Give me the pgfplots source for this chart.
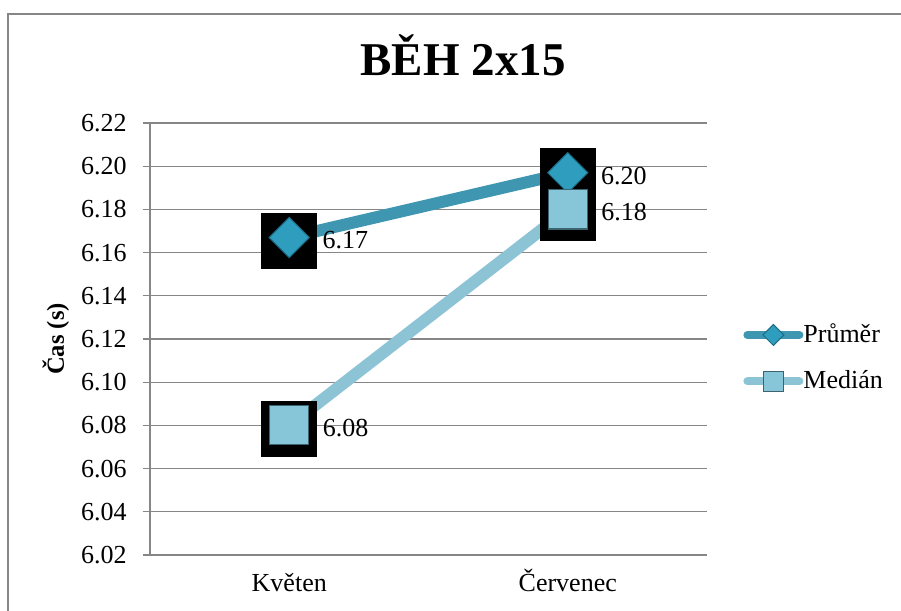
\documentclass[border=0pt]{standalone}
\usepackage{pgfplots}
\pgfplotsset{compat=1.18}
\usepackage{fontspec}
\setmainfont{Liberation Serif}

\definecolor{cPrumer}{RGB}{62,150,176}
\definecolor{cPrumerMk}{RGB}{47,157,190}
\definecolor{cPrumerEdge}{RGB}{28,108,132}
\definecolor{cMedian}{RGB}{141,196,213}
\definecolor{cMedianMk}{RGB}{135,198,216}
\definecolor{cMedianEdge}{RGB}{60,100,112}
\definecolor{cGrid}{RGB}{134,134,134}

\begin{document}
\begin{tikzpicture}
\useasboundingbox (0,0) rectangle (450.5pt,305.5pt);
% chart frame
\draw[cGrid, line width=1pt] (4pt,0pt) -- (4pt,298.5pt) -- (450.5pt,298.5pt);
\coordinate (plotorigin) at (75pt,28pt);

\begin{axis}[
  at={(plotorigin)}, anchor=south west,
  scale only axis, width=278.5pt, height=216pt,
  xmin=-0.5, xmax=1.5, ymin=6.02, ymax=6.22,
  xtick={0,1}, xticklabels={Květen, Červenec},
  ytick={6.02,6.04,...,6.221},
  axis lines*=left,
  axis line style={cGrid, line width=0.6pt},
  ymajorgrids, grid style={cGrid, line width=0.6pt},
  major x tick style={draw=none},
  major y tick style={cGrid, line width=0.6pt},
  tick align=outside, major tick length=3.5pt,
  /pgf/number format/assume math mode=true,
  yticklabel={\pgfmathprintnumber[fixed, fixed zerofill, precision=2]{\tick}},
  tick label style={font=\fontsize{13}{15}\selectfont},
  yticklabel style={anchor=east, inner sep=0pt, xshift=-8pt},
  xticklabel style={anchor=base, inner sep=0pt, yshift=-15pt},
  ylabel={\textbf{Čas (s)}},
  ylabel style={at={(axis description cs:-0.169,0.5)}, anchor=center, font=\fontsize{12.3}{14}\selectfont},
  title={\textbf{BĚH 2x15}},
  title style={at={(axis description cs:0.562,1.083)}, anchor=base, inner sep=0pt, font=\fontsize{23.5}{26}\selectfont},
  legend style={at={(axis description cs:1,0.5)}, anchor=west, xshift=15pt, yshift=-9.5pt,
    draw=none, fill=none, font=\fontsize{13}{15}\selectfont, row sep=12.5pt,
    nodes={inner sep=0pt, anchor=west}},
  legend cell align=left,
  clip=false,
]
% connecting lines
\addplot[cPrumer, line width=6pt, forget plot] coordinates {(0,6.167) (1,6.197)};
\addplot[cMedian, line width=6pt, forget plot] coordinates {(0,6.08) (1,6.18)};
% black backing boxes behind the markers
\addplot[only marks, mark=square*, mark size=13.75pt, black, forget plot,
  mark options={yshift=-1.75pt}] coordinates {(0,6.167) (1,6.197) (0,6.08) (1,6.18)};
% markers with value labels
\addplot[only marks, mark=square*, mark size=7.1pt,
  mark options={rotate=45, fill=cPrumerMk, draw=cPrumerEdge, line width=0.5pt},
  nodes near coords={\pgfmathprintnumber[fixed, fixed zerofill, precision=2]{\pgfplotspointmeta}},
  point meta=y,
  every node near coord/.style={anchor=west, inner sep=0pt, xshift=16.5pt, yshift=-1.5pt,
    font=\fontsize{13}{15}\selectfont, text=black},
  legend image code/.code={
    \draw[cPrumer, line width=4pt, line cap=round] (0pt,0pt) -- (26pt,0pt);
    \draw[mark size=3.7pt, mark=square*, mark options={rotate=45, fill=cPrumerMk, draw=cPrumerEdge, line width=0.5pt}]
      plot coordinates {(13pt,0pt)};
  },
] coordinates {(0,6.167) (1,6.197)};
\addlegendentry{Průměr}
\addplot[only marks, mark=square*, mark size=9.75pt,
  mark options={fill=cMedianMk, draw=cMedianEdge, line width=0.6pt},
  nodes near coords={\pgfmathprintnumber[fixed, fixed zerofill, precision=2]{\pgfplotspointmeta}},
  point meta=y,
  every node near coord/.style={anchor=west, inner sep=0pt, xshift=16.5pt, yshift=-1.5pt,
    font=\fontsize{13}{15}\selectfont, text=black},
  legend image code/.code={
    \draw[cMedian, line width=4pt, line cap=round] (0pt,0pt) -- (26pt,0pt);
    \draw[mark size=5pt, mark=square*, mark options={fill=cMedianMk, draw=cMedianEdge, line width=0.5pt}]
      plot coordinates {(13pt,0pt)};
  },
] coordinates {(0,6.08) (1,6.18)};
\addlegendentry{Medián}
\end{axis}
\end{tikzpicture}
\end{document}
